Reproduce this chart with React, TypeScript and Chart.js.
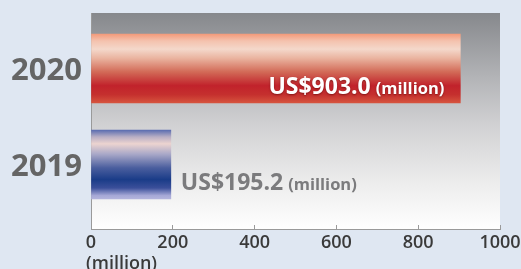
import React, { useEffect, useRef } from "react";
import { Chart, registerables } from "chart.js";

Chart.register(...registerables);

// ---- data ----
const categories = ["2020", "2019"];
const values = [903.0, 195.2];
const xTicks = [0, 200, 400, 600, 800, 1000];
const unitLabel = "(million)";
const valuePrefix = "US$";

// ---- styles ----
const FONT = "'Open Sans', 'DejaVu Sans', sans-serif";
const PAGE_BG = "#dfe7f2";
const barStops: [number, string][][] = [
  [
    [0, "#f39a7a"],
    [0.1, "#f4c2ae"],
    [0.22, "#f4d8cb"],
    [0.35, "#eab4a0"],
    [0.55, "#d26a57"],
    [0.75, "#c1222b"],
    [0.88, "#c5302e"],
    [1, "#d6543e"],
  ],
  [
    [0, "#5a6cb0"],
    [0.1, "#b8aec4"],
    [0.2, "#ecd4d0"],
    [0.35, "#a9a8c8"],
    [0.55, "#4a5e9e"],
    [0.72, "#1a3c88"],
    [0.84, "#3b4f9a"],
    [0.95, "#a6a8d6"],
    [1, "#b4b4dc"],
  ],
];

const bgPlugin = {
  id: "plotBg",
  beforeDraw(chart: any) {
    const { ctx, chartArea } = chart;
    if (!chartArea) return;
    const { left, top, right, bottom } = chartArea;
    ctx.save();
    const g = ctx.createLinearGradient(0, top, 0, bottom);
    g.addColorStop(0, "#86888c");
    g.addColorStop(0.3, "#b3b4b7");
    g.addColorStop(0.52, "#d1d1d3");
    g.addColorStop(0.78, "#ececec");
    g.addColorStop(1, "#ffffff");
    ctx.fillStyle = g;
    ctx.fillRect(left, top, right - left, bottom - top);
    ctx.restore();
  },
};

const labelPlugin = {
  id: "valueLabels",
  afterDatasetsDraw(chart: any) {
    const { ctx } = chart;
    const meta = chart.getDatasetMeta(0);
    ctx.save();
    meta.data.forEach((bar: any, i: number) => {
      const main = valuePrefix + values[i].toFixed(1);
      const mainFont = `bold 23px ${FONT}`;
      const unitFont = `bold 16.5px ${FONT}`;
      ctx.font = mainFont;
      const wM = ctx.measureText(main).width;
      ctx.font = unitFont;
      const wU = ctx.measureText(unitLabel).width;
      const gap = 5;
      const baseY = bar.y + 25.5;
      const inside = bar.x - bar.base > wM + wU + 40;
      let startX: number;
      ctx.textBaseline = "alphabetic";
      ctx.textAlign = "left";
      if (inside) {
        startX = bar.x - 16 - wU - gap - wM;
        ctx.fillStyle = "#ffffff";
        ctx.shadowColor = "rgba(80,0,0,0.55)";
        ctx.shadowBlur = 2;
        ctx.shadowOffsetY = 1;
      } else {
        startX = bar.x + 10;
        ctx.fillStyle = "#7b7b7d";
        ctx.shadowColor = "rgba(0,0,0,0)";
      }
      ctx.font = mainFont;
      ctx.fillText(main, startX, baseY);
      ctx.font = unitFont;
      ctx.fillText(unitLabel, startX + wM + gap, baseY);
    });
    ctx.restore();

    // axis unit under the x axis
    const x = chart.scales.x;
    ctx.save();
    ctx.font = `600 18px ${FONT}`;
    ctx.fillStyle = "#3a3a3a";
    ctx.textBaseline = "middle";
    ctx.textAlign = "left";
    ctx.fillText(unitLabel, x.getPixelForValue(0) - 5, chart.chartArea.bottom + 35);
    ctx.restore();
  },
};

export default function App() {
  const ref = useRef<HTMLCanvasElement | null>(null);

  useEffect(() => {
    document.body.style.margin = "0";
    document.body.style.background = PAGE_BG;
    const canvas = ref.current;
    if (!canvas) return;
    const chart = new Chart(canvas, {
      type: "bar",
      data: {
        datasets: [
          {
            data: values.map((v, i) => ({ x: v, y: i })),
            barThickness: 69,
            borderWidth: 0,
            backgroundColor: (c: any) => {
              const ch = c.chart;
              if (!ch.chartArea) return "#c0202a";
              const cy = ch.scales.y.getPixelForValue(c.dataIndex);
              const g = ch.ctx.createLinearGradient(0, cy - 34.5, 0, cy + 34.5);
              (barStops[c.dataIndex] || barStops[0]).forEach(([o, col]) => g.addColorStop(o, col));
              return g;
            },
          } as any,
        ],
      },
      options: {
        indexAxis: "y",
        animation: false,
        responsive: false,
        devicePixelRatio: 1,
        layout: { padding: { top: 13, right: 21, left: 0, bottom: 0 } },
        plugins: { legend: { display: false }, tooltip: { enabled: false } },
        scales: {
          x: {
            type: "linear",
            min: xTicks[0],
            max: xTicks[xTicks.length - 1],
            afterBuildTicks: (s: any) => {
              s.ticks = xTicks.map((v) => ({ value: v }));
            },
            afterFit: (s: any) => {
              s.height = 40;
              s.paddingLeft = 0;
              s.paddingRight = 0;
            },
            grid: {
              display: true,
              drawOnChartArea: false,
              drawTicks: true,
              tickLength: -4,
              color: "#9a9a9a",
            },
            border: { display: true, color: "#9a9a9a", width: 1 },
            ticks: {
              padding: 7,
              color: "#3a3a3a",
              font: { family: FONT, size: 18, weight: "600" as any },
              maxRotation: 0,
              callback: (v: any) => String(v),
            },
          },
          y: {
            type: "linear",
            reverse: true,
            offset: false,
            min: -0.578,
            max: 1.672,
            afterBuildTicks: (s: any) => {
              s.ticks = categories.map((_, i) => ({ value: i }));
            },
            afterFit: (s: any) => {
              s.width = 91;
              s.paddingTop = 0;
              s.paddingBottom = 0;
            },
            grid: { display: false, drawTicks: false, offset: false },
            border: { display: true, color: "#9a9a9a", width: 1 },
            ticks: {
              padding: 9,
              labelOffset: 3,
              color: "#656565",
              font: { family: FONT, size: 31, weight: "bold" },
              callback: (v: any) => categories[Number(v)] ?? "",
            },
          },
        },
      },
      plugins: [bgPlugin, labelPlugin],
    });
    return () => chart.destroy();
  }, []);

  return (
    <div style={{ position: "fixed", left: 0, top: 0, width: 521, height: 269, background: PAGE_BG }}>
      <canvas ref={ref} width={521} height={269} style={{ display: "block", width: 521, height: 269 }} />
    </div>
  );
}
